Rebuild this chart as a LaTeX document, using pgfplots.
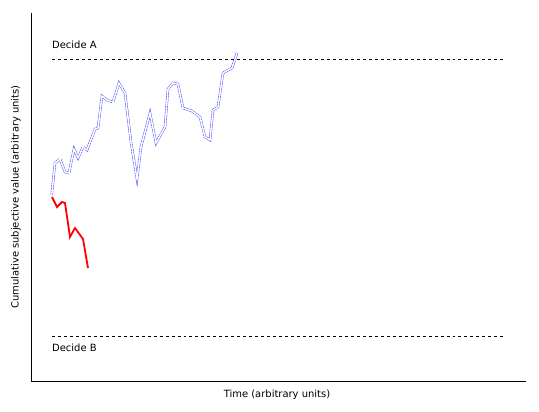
\documentclass[border=0pt]{standalone}
\usepackage{pgfplots}
\pgfplotsset{compat=1.18}
\usepackage{fontspec}
\setmainfont{DejaVu Sans}
\begin{document}
\begin{tikzpicture}
\begin{axis}[scale only axis, width=495bp, height=368bp,
 xmin=31, xmax=526, ymin=13, ymax=381, y dir=reverse,
 axis x line*=bottom, axis y line*=left, axis line style={-, line width=0.8pt},
 xtick=\empty, ytick=\empty, clip=false]
\path (axis cs:0,0) (axis cs:539,412);
\node[font=\fontsize{10}{12}\selectfont] at (axis cs:277,395) {Time (arbitrary units)};
\node[font=\fontsize{10}{12}\selectfont, rotate=90] at (axis cs:16,197) {Cumulative subjective value (arbitrary units)};
\addplot[black, dashed, line width=1pt] coordinates {(52,59) (503,59)};
\addplot[black, dashed, line width=0.8pt] coordinates {(52,336) (503,336)};
\node[anchor=south west, inner sep=0pt, font=\fontsize{10}{12}\selectfont] at (axis cs:52,49) {Decide A};
\node[anchor=north west, inner sep=0pt, font=\fontsize{10}{12}\selectfont] at (axis cs:52,344) {Decide B};
\pgfplotstableread{
x y
51.7 195
55 163
60 159
65 172
69 173
74 149
78 158
83 147
87 150
95 129
98 128
102 96
107 100
113 102
119 83
125 93
131 142
137 179
141 147
150 113
156 143
165 127
168 89
173 83
178 84
183 108
192 111
200 117
205 137
210 140
213 110
218 107
223 73
232 68
237 53
}\blue
\addplot[blue!80, line width=2.4pt, dash pattern=on 2pt off 0.6pt] table[x=x,y=y]{\blue};
\addplot[white, line width=1.5pt] table[x=x,y=y]{\blue};
\addplot[red, line width=1.8pt] coordinates {(52,197) (57,207) (62,202) (65,203) (70,237) (75,228) (83,239) (88,268)};
\end{axis}
\end{tikzpicture}
\end{document}
